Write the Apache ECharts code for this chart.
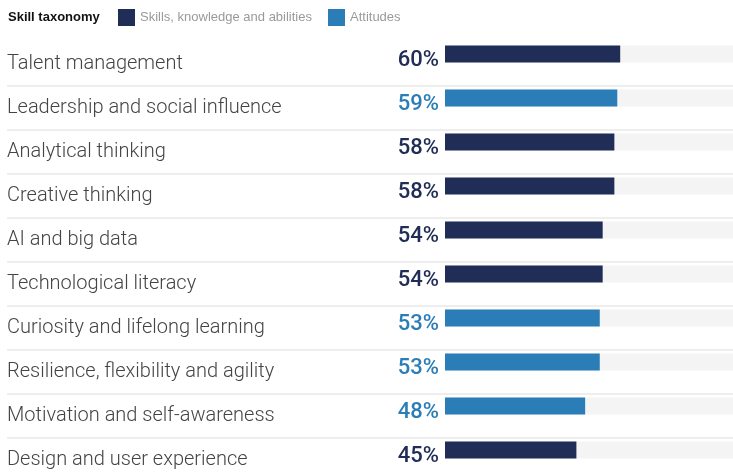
<!DOCTYPE html>
<html>
<head>
<meta charset="utf-8">
<script src="https://cdn.jsdelivr.net/npm/echarts@6/dist/echarts.min.js"></script>
<style>
  html, body { margin: 0; padding: 0; background: #fff; }
  #chart { width: 733px; height: 474px; }
</style>
</head>
<body>
<div id="chart"></div>
<script>
// skills, sorted as in the source
const skills = [
  "Talent management",
  "Leadership and social influence",
  "Analytical thinking",
  "Creative thinking",
  "AI and big data",
  "Technological literacy",
  "Curiosity and lifelong learning",
  "Resilience, flexibility and agility",
  "Motivation and self-awareness",
  "Design and user experience"
];
const shares = [60, 59, 58, 58, 54, 54, 53, 53, 48, 45];
// S = skills, knowledge and abilities, A = attitudes
const taxonomy = ["S", "A", "S", "S", "S", "S", "A", "A", "A", "S"];
const fullScale = [100, 100, 100, 100, 100, 100, 100, 100, 100, 100];

const navy = "#202d57";
const blue = "#2a7db7";

let myChart = echarts.init(document.getElementById("chart"));

const skillData = shares.map((v, i) => (taxonomy[i] == "S" ? v : null));
const attData = shares.map((v, i) => (taxonomy[i] == "A" ? v : null));

function pctLabel(color) {
  return {
    show: true,
    position: "left",
    distance: 6,
    offset: [0, 6],
    formatter: "{c}%",
    color: color,
    fontFamily: "Roboto",
    fontWeight: 500,
    fontSize: 22
  };
}

myChart.setOption({
  animation: false,
  title: {
    text: "Skill taxonomy",
    left: 3,
    top: 6,
    textStyle: { fontSize: 13, fontWeight: "bold", color: "#111", fontFamily: "Liberation Sans" }
  },
  legend: {
    data: ["Skills, knowledge and abilities", "Attitudes"],
    left: 113,
    top: 4,
    icon: "rect",
    itemWidth: 17,
    itemHeight: 17,
    itemGap: 16,
    textStyle: { color: "#9a9a9a", fontSize: 13, fontFamily: "Liberation Sans" }
  },
  grid: [
    // bars: bands centred on the bars
    { left: 7, top: 32, width: 730, height: 440, outerBoundsMode: "none" },
    // row labels and separators sit 10px lower
    { left: 7, top: 42, width: 730, height: 440, outerBoundsMode: "none" }
  ],
  xAxis: [
    { type: "value", gridIndex: 0, min: -150, max: 100, show: false },
    { type: "value", gridIndex: 1, min: -150, max: 100, show: false }
  ],
  yAxis: [
    {
      type: "category",
      gridIndex: 0,
      data: skills,
      inverse: true,
      axisLine: { show: false },
      axisTick: { show: false },
      splitLine: { show: false },
      axisLabel: { show: false }
    },
    {
      type: "category",
      gridIndex: 1,
      data: skills,
      inverse: true,
      axisLine: { show: false },
      axisTick: { show: false },
      axisLabel: {
        inside: true,
        margin: 0,
        color: "#444444",
        fontFamily: "Roboto",
        fontWeight: 300,
        fontSize: 20
      },
      splitLine: {
        show: true,
        showMinLine: false,
        lineStyle: { color: "#eeeeee", width: 2 }
      }
    }
  ],
  series: [
    {
      name: "bg",
      type: "bar",
      data: fullScale,
      barWidth: 17,
      barGap: "-100%",
      itemStyle: { color: "#f4f4f4" },
      silent: true,
      z: 1
    },
    {
      name: "Skills, knowledge and abilities",
      type: "bar",
      data: skillData,
      barWidth: 17,
      barGap: "-100%",
      itemStyle: { color: navy },
      label: pctLabel(navy),
      z: 2
    },
    {
      name: "Attitudes",
      type: "bar",
      data: attData,
      barWidth: 17,
      barGap: "-100%",
      itemStyle: { color: blue },
      label: pctLabel(blue),
      z: 2
    }
  ]
});
</script>
</body>
</html>
